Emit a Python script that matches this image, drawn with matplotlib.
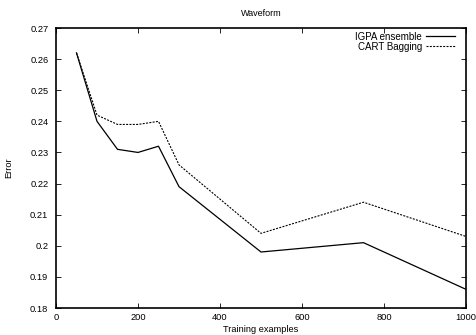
import matplotlib
matplotlib.use("Agg")
import matplotlib.pyplot as plt

plt.rcParams['font.family'] = ['Liberation Sans', 'DejaVu Sans']

train_sizes = [50, 100, 150, 200, 250, 300, 500, 750, 1000]
igpa_error = [0.262, 0.240, 0.231, 0.230, 0.232, 0.219, 0.198, 0.201, 0.186]
cart_error = [0.262, 0.242, 0.239, 0.239, 0.240, 0.226, 0.204, 0.214, 0.203]
x_ticks = [0, 200, 400, 600, 800, 1000]
y_ticks = [0.18, 0.19, 0.20, 0.21, 0.22, 0.23, 0.24, 0.25, 0.26, 0.27]
y_tick_labels = ['0.18', '0.19', '0.2', '0.21', '0.22', '0.23', '0.24', '0.25', '0.26', '0.27']

fig = plt.figure(figsize=(4.76, 3.35), dpi=100)
ax = fig.add_axes([56/476, 1 - 308/335, (466-56)/476, (308-28)/335])

ax.plot(train_sizes, igpa_error, color='black', lw=0.9, label='IGPA ensemble')
ax.plot(train_sizes, cart_error, color='black', lw=0.8, linestyle=(0, (1.8, 1.2)), label='CART Bagging')

ax.set_xlim(0, 1000)
ax.set_ylim(0.18, 0.27)
ax.set_xticks(x_ticks)
ax.set_yticks(y_ticks)
ax.set_yticklabels(y_tick_labels)
ax.tick_params(direction='in', top=True, right=True, length=3.5, width=0.6,
               labelsize=6.7, colors='black')
ax.tick_params(axis='y', pad=5.5)
ax.tick_params(axis='x', pad=3.5)
for s in ax.spines.values():
    s.set_linewidth(1.2)

ax.set_title('Waveform', fontsize=6.5, pad=9)
ax.set_xlabel('Training examples', fontsize=6.7, labelpad=2.5)
ax.set_ylabel('Error', fontsize=6.7, labelpad=12)

leg = ax.legend(loc='upper right', bbox_to_anchor=(0.973, 0.987),
                markerfirst=False, frameon=False, fontsize=7,
                handlelength=3.0, handletextpad=0.4, labelspacing=0.0,
                borderaxespad=0.0, borderpad=0.0)

fig.savefig('out.png', dpi=100)
